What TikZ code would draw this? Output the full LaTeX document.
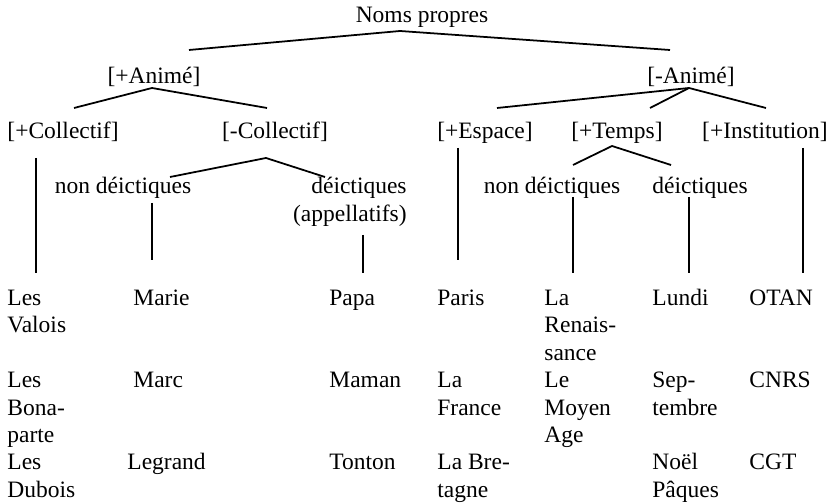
\documentclass[tikz,border=0pt]{standalone}
\usepackage{fontspec}
\setmainfont{Liberation Serif}
\tikzset{feat/.style = {inner sep=0pt, anchor=base}}
\tikzset{leaf/.style = {inner sep=0pt, anchor=base west}}
\tikzset{branch/.style = {line width=0.9pt}}
\newcommand{\leafcell}[2][l]{\begin{tabular}[t]{@{}#1@{}}#2\end{tabular}}

\begin{document}
\begin{tikzpicture}
[x={(0.5106pt,0pt)}, y={(0pt,-0.5106pt)}, font=\fontsize{12}{14}\selectfont]

\useasboundingbox (0,0) rectangle (835,503);

	% Feature labels
	\node (noms) [feat] at (422,23) {Noms propres};
	\node (anim) [feat] at (154,84) {[+Animé]};
	\node (inanim) [feat] at (691,84) {[-Animé]};
	\node (coll) [feat] at (63,139) {[+Collectif]};
	\node (ncoll) [feat] at (275,139) {[-Collectif]};
	\node (espace) [feat] at (485,139) {[+Espace]};
	\node (temps) [feat] at (617,139) {[+Temps]};
	\node (instit) [feat] at (765,139) {[+Institution]};
	\node (nondeic) [feat] at (123,194) {non déictiques};
	\node (deic) [feat, anchor=base east] at (407,194) {\leafcell[r]{déictiques\\(appellatifs)}};
	\node (tnondeic) [feat] at (552,194) {non déictiques};
	\node (tdeic) [feat] at (700,194) {déictiques};

	% Branch ends
	\coordinate (noms-t) at (400,31);
	\coordinate (noms-l) at (189,50);
	\coordinate (noms-r) at (670,50);
	\coordinate (anim-t) at (152,88);
	\coordinate (anim-l) at (74,108);
	\coordinate (anim-r) at (267,108);
	\coordinate (inanim-t) at (689,88);
	\coordinate (inanim-l) at (497,108);
	\coordinate (inanim-m) at (650,108);
	\coordinate (inanim-r) at (766,108);
	\coordinate (ncoll-t) at (266,158);
	\coordinate (ncoll-l) at (170,177);
	\coordinate (ncoll-r) at (325,177);
	\coordinate (temps-t) at (612,146);
	\coordinate (temps-l) at (573,165);
	\coordinate (temps-r) at (671,165);

	\draw [branch] (noms-l) -- (noms-t) -- (noms-r);
	\draw [branch] (anim-l) -- (anim-t) -- (anim-r);
	\draw [branch] (inanim-l) -- (inanim-t) -- (inanim-r);
	\draw [branch] (inanim-t) -- (inanim-m);
	\draw [branch] (ncoll-l) -- (ncoll-t) -- (ncoll-r);
	\draw [branch] (temps-l) -- (temps-t) -- (temps-r);

	% Vertical stems
	\coordinate (coll-a) at (36,158);
	\coordinate (coll-b) at (36,273);
	\coordinate (nondeic-a) at (152,203);
	\coordinate (nondeic-b) at (152,260);
	\coordinate (deic-a) at (363,235);
	\coordinate (deic-b) at (363,273);
	\coordinate (espace-a) at (458,148);
	\coordinate (espace-b) at (458,260);
	\coordinate (tnondeic-a) at (573,197);
	\coordinate (tnondeic-b) at (573,273);
	\coordinate (tdeic-a) at (689,197);
	\coordinate (tdeic-b) at (689,273);
	\coordinate (instit-a) at (803,148);
	\coordinate (instit-b) at (803,273);

	\draw [branch] (coll-a) -- (coll-b);
	\draw [branch] (nondeic-a) -- (nondeic-b);
	\draw [branch] (deic-a) -- (deic-b);
	\draw [branch] (espace-a) -- (espace-b);
	\draw [branch] (tnondeic-a) -- (tnondeic-b);
	\draw [branch] (tdeic-a) -- (tdeic-b);
	\draw [branch] (instit-a) -- (instit-b);

	% Examples
	\node (valois) [leaf] at (7,305.5) {\leafcell{Les\\Valois}};
	\node (bonaparte) [leaf] at (7,388) {\leafcell{Les\\Bona-\\parte}};
	\node (dubois) [leaf] at (7,470) {\leafcell{Les\\Dubois}};
	\node (marie) [leaf] at (133,305.5) {Marie};
	\node (marc) [leaf] at (133,388) {Marc};
	\node (legrand) [leaf] at (127,470) {Legrand};
	\node (papa) [leaf] at (329,305.5) {Papa};
	\node (maman) [leaf] at (329,388) {Maman};
	\node (tonton) [leaf] at (329,470) {Tonton};
	\node (paris) [leaf] at (437,305.5) {Paris};
	\node (france) [leaf] at (437,388) {\leafcell{La\\France}};
	\node (bretagne) [leaf] at (437,470) {\leafcell{La Bre-\\tagne}};
	\node (renaissance) [leaf] at (544,305.5) {\leafcell{La\\Renais-\\sance}};
	\node (moyenage) [leaf] at (544,388) {\leafcell{Le\\Moyen\\Age}};
	\node (lundi) [leaf] at (652,305.5) {Lundi};
	\node (septembre) [leaf] at (652,388) {\leafcell{Sep-\\tembre}};
	\node (noel) [leaf] at (652,470) {\leafcell{Noël\\Pâques}};
	\node (otan) [leaf] at (749,305.5) {OTAN};
	\node (cnrs) [leaf] at (749,388) {CNRS};
	\node (cgt) [leaf] at (749,470) {CGT};

\end{tikzpicture}
\end{document}
